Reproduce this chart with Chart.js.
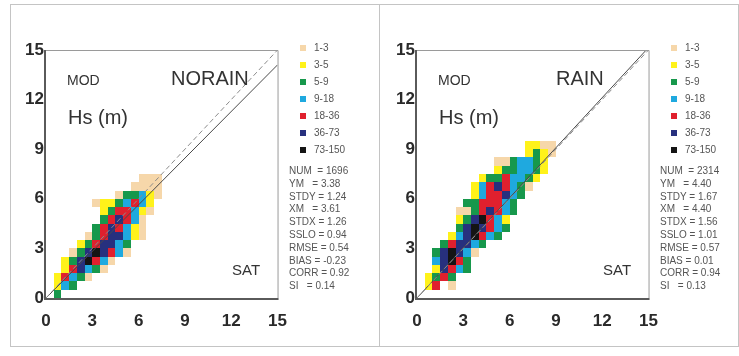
<!DOCTYPE html>
<html>
<head>
<meta charset="utf-8">
<script src="https://cdn.jsdelivr.net/npm/chart.js@4.4.0/dist/chart.umd.min.js"></script>
<style>
  body { margin: 0; width: 739px; height: 356px; background: #fff; position: relative; overflow: hidden;
         font-family: Arial, "Liberation Sans", sans-serif; }
  .panel { position: absolute; border: 1px solid #c4c4c4; box-sizing: border-box; }
  .cv { position: absolute; }
  .t { position: absolute; white-space: pre; color: #333; line-height: 1; }
  .leg { position: absolute; font-size: 10px; color: #555; line-height: 1; white-space: pre; }
  .sq { position: absolute; width: 6px; height: 6px; }
  .st { position: absolute; font-size: 10px; color: #555; line-height: 1; white-space: pre; }
</style>
</head>
<body>
<div class="panel" style="left:10px;top:4px;width:370px;height:343px"></div>
<div class="panel" style="left:379px;top:4px;width:360px;height:343px"></div>

<canvas id="chartNorain" class="cv" width="300" height="320" style="left:0px;top:30px"></canvas>
<canvas id="chartRain" class="cv" width="300" height="320" style="left:371px;top:30px"></canvas>

<script>
// axis ticks (m)
const tickValues = [0, 3, 6, 9, 12, 15];
const binSize = 0.5;

// count classes
const binLabels = ['1-3', '3-5', '5-9', '9-18', '18-36', '36-73', '73-150'];
const binColors = ['#f6d7aa', '#fff21a', '#17984c', '#1fa9df', '#e0202e', '#27307e', '#141414'];

// density cells, one string per 0.5 m row, top row first; digit = class (1..7), '.' = empty
const cellsNorain = [
  '............111.',
  '...........1111.',
  '.........133421.',
  '......12234542..',
  '.......2355421..',
  '.......356541...',
  '......3565421...',
  '.....13566421...',
  '....2356643.....',
  '...13676541.....',
  '..2367541.......',
  '..256431........',
  '.25431..........',
  '.243............',
  '.3..............'
];
const cellsRain = [
  '..............2211..',
  '..............2321..',
  '..........1134432...',
  '..........2334432...',
  '........23354432....',
  '.......24565431.....',
  '.......2455643......',
  '......3355543.......',
  '.....11356543.......',
  '.....2367542........',
  '.....3676543........',
  '....2467543.........',
  '...356643...........',
  '..367641............',
  '..46753.............',
  '..26543.............',
  '.2353...............',
  '.25.1...............',
  '....................'
];

// regression slope (solid) and 1:1 line (dashed)
const slopeNorain = 0.94;
const slopeRain = 1.01;
const lineX = [0, 15];

// statistics
const statNames = ['NUM  ', 'YM   ', 'STDY ', 'XM   ', 'STDX ', 'SSLO ', 'RMSE ', 'BIAS ', 'CORR ', 'SI   '];
const statsNorain = ['1696', '3.38', '1.24', '3.61', '1.26', '0.94', '0.54', '-0.23', '0.92', '0.14'];
const statsRain = ['2314', '4.40', '1.67', '4.40', '1.56', '1.01', '0.57', '0.01', '0.94', '0.13'];

// draws the density cells on the chart scales
const cellPlugin = {
  id: 'cells',
  beforeDatasetsDraw(chart, args, opts) {
    const ctx = chart.ctx;
    const xs = chart.scales.x, ys = chart.scales.y;
    const rows = opts.rows;
    ctx.save();
    rows.forEach((row, i) => {
      const j = rows.length - 1 - i;
      for (let k = 0; k < row.length; k++) {
        const c = row[k];
        if (c === '.') continue;
        const x0 = Math.round(xs.getPixelForValue(k * binSize));
        const x1 = Math.round(xs.getPixelForValue((k + 1) * binSize));
        const y0 = Math.round(ys.getPixelForValue(j * binSize));
        const y1 = Math.round(ys.getPixelForValue((j + 1) * binSize));
        ctx.fillStyle = binColors[+c - 1];
        ctx.fillRect(x0, y1, x1 - x0, y0 - y1);
      }
    });
    ctx.restore();
  }
};

// frame: thin top/right edges, heavy left/bottom axes
const framePlugin = {
  id: 'frame',
  afterDraw(chart) {
    const { ctx, chartArea: a } = chart;
    ctx.save();
    ctx.strokeStyle = '#9a9a9a';
    ctx.lineWidth = 1;
    ctx.beginPath();
    ctx.moveTo(a.left, a.top + 0.5);
    ctx.lineTo(a.right + 0.5, a.top + 0.5);
    ctx.lineTo(a.right + 0.5, a.bottom);
    ctx.stroke();
    ctx.strokeStyle = '#5a5a5a';
    ctx.lineWidth = 2;
    ctx.beginPath();
    ctx.moveTo(a.left - 1, a.top);
    ctx.lineTo(a.left - 1, a.bottom + 1);
    ctx.lineTo(a.right + 1, a.bottom + 1);
    ctx.stroke();
    ctx.restore();
  }
};

function makeChart(id, rows, slope) {
  const ctx = document.getElementById(id).getContext('2d');
  return new Chart(ctx, {
    type: 'scatter',
    data: {
      datasets: [
        {
          data: lineX.map(v => ({ x: v, y: v })),
          showLine: true,
          borderColor: '#8c8c8c',
          borderWidth: 1,
          borderDash: [5, 3],
          pointRadius: 0
        },
        {
          data: lineX.map(v => ({ x: v, y: v * slope })),
          showLine: true,
          borderColor: '#4a4a4a',
          borderWidth: 1,
          pointRadius: 0
        }
      ]
    },
    options: {
      responsive: false,
      animation: false,
      layout: { padding: { left: 0, right: 17, top: 20, bottom: 12 } },
      plugins: { legend: { display: false }, tooltip: { enabled: false }, cells: { rows: rows } },
      scales: {
        x: {
          type: 'linear', min: 0, max: 15,
          afterBuildTicks: s => { s.ticks = tickValues.map(v => ({ value: v })); },
          afterFit: s => { s.height = 40; },
          grid: { display: false, drawTicks: false },
          border: { display: false },
          ticks: { padding: 13, color: '#2a2a2a', font: { family: 'Arial', size: 17, weight: 'bold' } }
        },
        y: {
          type: 'linear', min: 0, max: 15,
          afterBuildTicks: s => { s.ticks = tickValues.map(v => ({ value: v })); },
          afterFit: s => { s.width = 46; },
          grid: { display: false, drawTicks: false },
          border: { display: false },
          ticks: { padding: 2, color: '#2a2a2a', font: { family: 'Arial', size: 17, weight: 'bold' } }
        }
      }
    },
    plugins: [cellPlugin, framePlugin]
  });
}

makeChart('chartNorain', cellsNorain, slopeNorain);
makeChart('chartRain', cellsRain, slopeRain);

// text labels, legend and statistics
function addText(cls, txt, left, top, style) {
  const d = document.createElement('div');
  d.className = cls;
  d.textContent = txt;
  d.style.left = left + 'px';
  d.style.top = top + 'px';
  if (style) Object.assign(d.style, style);
  document.body.appendChild(d);
  return d;
}

function addPanelText(dx, name, nameLeft, stats) {
  addText('t', 'MOD', 67 + dx, 73, { fontSize: '14px' });
  addText('t', 'Hs (m)', 68 + dx, 107, { fontSize: '20px' });
  addText('t', name, nameLeft + dx, 68, { fontSize: '20px' });
  addText('t', 'SAT', 232 + dx, 262, { fontSize: '15px' });
  binLabels.forEach((lab, i) => {
    const y = 48 + i * 17;
    const sq = addText('sq', '', 300 + dx, y - 3);
    sq.style.background = binColors[i];
    addText('leg', lab, 314 + dx, y - 5);
  });
  statNames.forEach((n, i) => {
    addText('st', n + '= ' + stats[i], 289 + dx, 166 + i * 12.8);
  });
}

addPanelText(0, 'NORAIN', 171, statsNorain);
addPanelText(371, 'RAIN', 185, statsRain);
</script>
</body>
</html>
